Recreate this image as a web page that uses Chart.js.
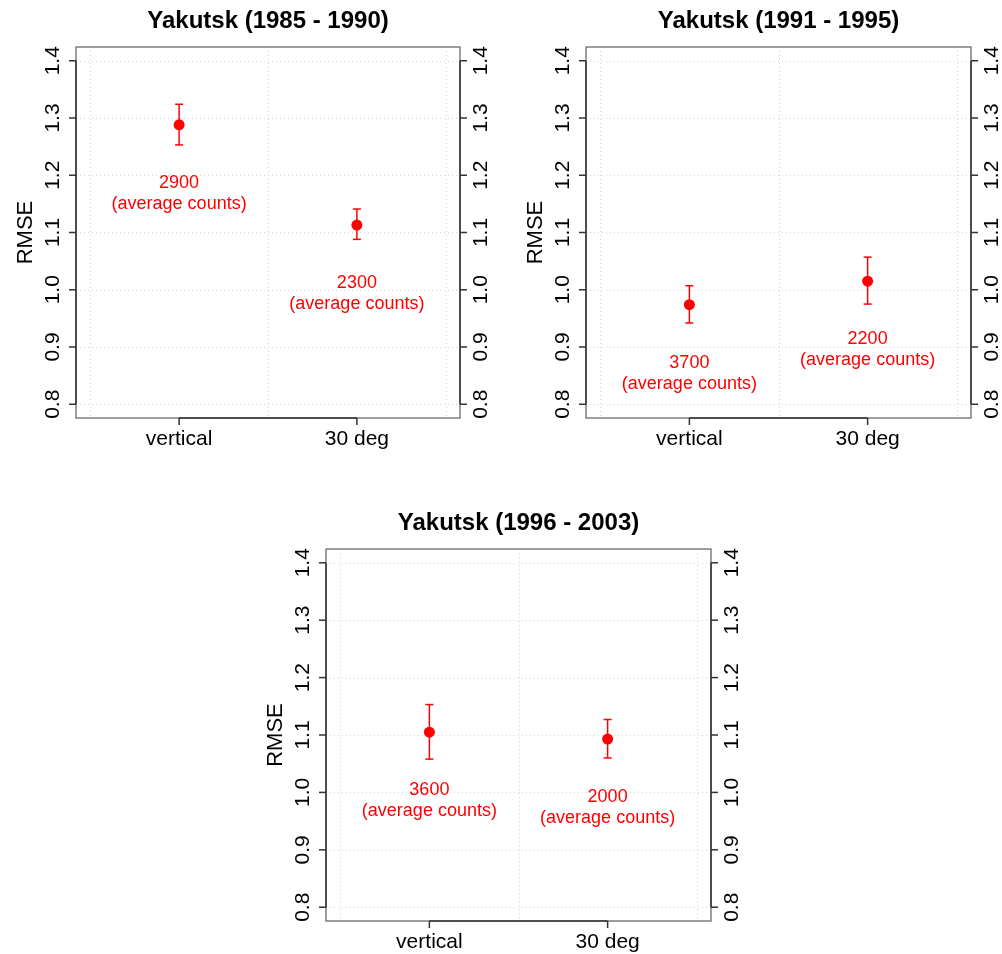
<!DOCTYPE html>
<html lang="en">
<head>
<meta charset="UTF-8" />
<title>Yakutsk RMSE</title>
<script src="https://cdn.jsdelivr.net/npm/chart.js"></script>
<style>
  body { margin: 0; background: #fff; }
  #page { position: relative; width: 1002px; height: 954px; }
  #page canvas { position: absolute; }
</style>
</head>
<body>
<div id="page">
  <canvas id="chart1985" width="500" height="470" style="left:0;top:0"></canvas>
  <canvas id="chart1991" width="502" height="470" style="left:500px;top:0"></canvas>
  <canvas id="chart1996" width="500" height="454" style="left:250px;top:500px"></canvas>
</div>
<script>
const categories = ['vertical', '30 deg'];
const yTicks = [0.8, 0.9, 1.0, 1.1, 1.2, 1.3, 1.4];
const xGrid = [0.5, 1.5, 2.5];

// 1985 - 1990
const rmse1985 = [1.288, 1.113];
const low1985 = [1.253, 1.088];
const high1985 = [1.324, 1.141];
const counts1985 = [2900, 2300];

// 1991 - 1995
const rmse1991 = [0.974, 1.015];
const low1991 = [0.942, 0.975];
const high1991 = [1.007, 1.057];
const counts1991 = [3700, 2200];

// 1996 - 2003
const rmse1996 = [1.105, 1.093];
const low1996 = [1.058, 1.060];
const high1996 = [1.153, 1.127];
const counts1996 = [3600, 2000];

const FONT = '"Liberation Sans", Arial, Helvetica, sans-serif';
const RED = '#ff0000';

function seg(ctx, x1, y1, x2, y2) {
  ctx.beginPath();
  ctx.moveTo(x1, y1);
  ctx.lineTo(x2, y2);
  ctx.stroke();
}

function vText(ctx, text, x, y) {
  ctx.save();
  ctx.translate(x, y);
  ctx.rotate(-Math.PI / 2);
  ctx.fillText(text, 0, 0);
  ctx.restore();
}

// base-graphics look: dotted grid, box, axes with outward ticks, error bars
const rAxes = {
  id: 'rAxes',
  beforeDatasetsDraw(chart, args, opts) {
    const { ctx, chartArea: a, scales: { x, y } } = chart;
    ctx.save();

    ctx.strokeStyle = '#d3d3d3';
    ctx.lineWidth = 1;
    ctx.setLineDash([1, 3]);
    yTicks.forEach(v => {
      const py = Math.round(y.getPixelForValue(v)) + 0.5;
      seg(ctx, a.left, py, a.right, py);
    });
    xGrid.forEach(v => {
      const px = Math.round(x.getPixelForValue(v)) + 0.5;
      seg(ctx, px, a.top, px, a.bottom);
    });
    ctx.setLineDash([]);

    // box
    ctx.strokeStyle = '#6b6b6b';
    ctx.lineWidth = 1.3;
    ctx.strokeRect(a.left, a.top, a.right - a.left, a.bottom - a.top);

    // axes
    ctx.strokeStyle = '#333';
    ctx.lineWidth = 1.5;
    const y0 = y.getPixelForValue(yTicks[0]);
    const y1 = y.getPixelForValue(yTicks[yTicks.length - 1]);
    seg(ctx, a.left, y0, a.left, y1);
    seg(ctx, a.right, y0, a.right, y1);
    yTicks.forEach(v => {
      const py = y.getPixelForValue(v);
      seg(ctx, a.left - 7, py, a.left, py);
      seg(ctx, a.right, py, a.right + 7, py);
    });
    const x0 = x.getPixelForValue(1);
    const x1 = x.getPixelForValue(categories.length);
    seg(ctx, x0, a.bottom, x1, a.bottom);
    categories.forEach((c, i) => {
      const px = x.getPixelForValue(i + 1);
      seg(ctx, px, a.bottom, px, a.bottom + 7);
    });

    // tick labels
    ctx.fillStyle = '#000';
    ctx.font = '21px ' + FONT;
    ctx.textAlign = 'center';
    ctx.textBaseline = 'alphabetic';
    yTicks.forEach(v => {
      const py = y.getPixelForValue(v);
      vText(ctx, v.toFixed(1), a.left - 17, py);
      vText(ctx, v.toFixed(1), a.right + 27, py);
    });
    categories.forEach((c, i) => {
      ctx.fillText(c, x.getPixelForValue(i + 1), a.bottom + 27);
    });

    // axis title
    ctx.font = '22px ' + FONT;
    vText(ctx, 'RMSE', a.left - 44, (a.top + a.bottom) / 2);

    // title
    ctx.font = 'bold 24px ' + FONT;
    ctx.fillText(opts.title, (a.left + a.right) / 2, a.top - 19);

    // error bars
    ctx.strokeStyle = RED;
    ctx.lineWidth = 1.5;
    opts.low.forEach((lo, i) => {
      const px = x.getPixelForValue(i + 1);
      const pl = y.getPixelForValue(lo);
      const ph = y.getPixelForValue(opts.high[i]);
      seg(ctx, px, pl, px, ph);
      seg(ctx, px - 4, pl, px + 4, pl);
      seg(ctx, px - 4, ph, px + 4, ph);
    });
    ctx.restore();
  },
  afterDatasetsDraw(chart, args, opts) {
    const { ctx, scales: { x, y } } = chart;
    const data = chart.data.datasets[0].data;
    ctx.save();
    ctx.fillStyle = RED;
    ctx.font = '18px ' + FONT;
    ctx.textAlign = 'center';
    ctx.textBaseline = 'middle';
    opts.counts.forEach((n, i) => {
      const px = x.getPixelForValue(data[i].x);
      const py = y.getPixelForValue(data[i].y - 0.12);
      ctx.fillText(String(n), px, py - 10.5);
      ctx.fillText('(average counts)', px, py + 10.5);
    });
    ctx.restore();
  }
};

function makeChart(id, title, rmse, low, high, counts, padding) {
  new Chart(document.getElementById(id), {
    type: 'scatter',
    data: {
      datasets: [{
        data: rmse.map((v, i) => ({ x: i + 1, y: v })),
        pointRadius: 5.5,
        pointHoverRadius: 5.5,
        pointBackgroundColor: RED,
        pointBorderWidth: 0
      }]
    },
    options: {
      responsive: false,
      animation: false,
      events: [],
      layout: { padding: padding },
      scales: {
        x: { type: 'linear', display: false, min: 0.42, max: 2.58 },
        y: { type: 'linear', display: false, min: 0.776, max: 1.424 }
      },
      plugins: {
        legend: { display: false },
        tooltip: { enabled: false },
        rAxes: { title: title, low: low, high: high, counts: counts }
      }
    },
    plugins: [rAxes]
  });
}

makeChart('chart1985', 'Yakutsk (1985 - 1990)', rmse1985, low1985, high1985, counts1985,
  { left: 76, top: 47, right: 40, bottom: 52 });
makeChart('chart1991', 'Yakutsk (1991 - 1995)', rmse1991, low1991, high1991, counts1991,
  { left: 86, top: 47, right: 31, bottom: 52 });
makeChart('chart1996', 'Yakutsk (1996 - 2003)', rmse1996, low1996, high1996, counts1996,
  { left: 76, top: 49, right: 39, bottom: 33 });
</script>
</body>
</html>
